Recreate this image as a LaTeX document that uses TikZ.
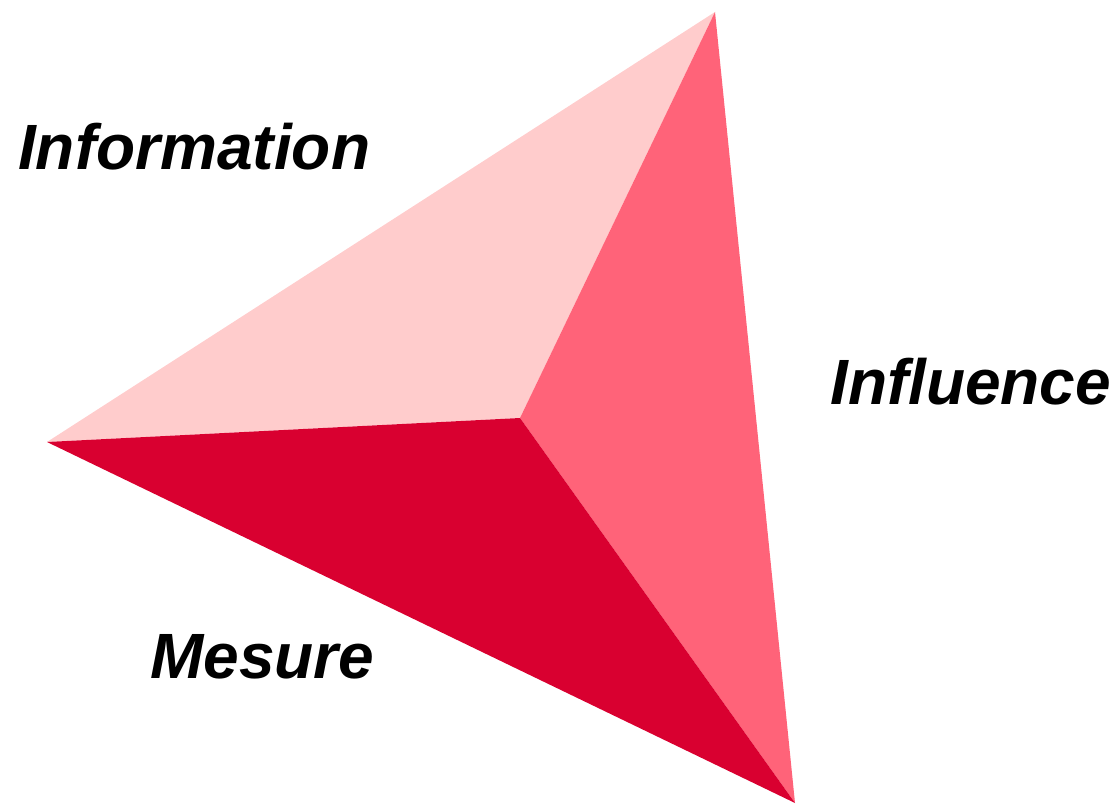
\documentclass[tikz,border=0pt]{standalone}
\usepackage{fontspec}
\setmainfont{Liberation Sans}
\begin{document}
\begin{tikzpicture}[x=1pt,y=-1pt,
  facet/.style={draw=none},
  label/.style={font=\fontsize{64}{70}\selectfont\bfseries\itshape, inner sep=0pt, anchor=base west}]
\definecolor{lightpink}{HTML}{FFCCCC}
\definecolor{midpink}{HTML}{FF6379}
\definecolor{darkred}{HTML}{D90030}
\useasboundingbox (0,0) rectangle (1117,805);
% corners of the pyramid and its apex
\coordinate (top) at (715,12);
\coordinate (left) at (47,442);
\coordinate (bottom) at (795,803);
\coordinate (apex) at (520,418);
% three facets
\fill[facet, lightpink] (top) -- (left) -- (apex) -- cycle;
\fill[facet, midpink] (top) -- (apex) -- (bottom) -- cycle;
\fill[facet, darkred] (left) -- (bottom) -- (apex) -- cycle;
% facet names
\node[label] (info) at (18,170) {Information};
\node[label] (infl) at (830,404) {Influence};
\node[label] (mes) at (150,678) {Mesure};
\end{tikzpicture}
\end{document}
